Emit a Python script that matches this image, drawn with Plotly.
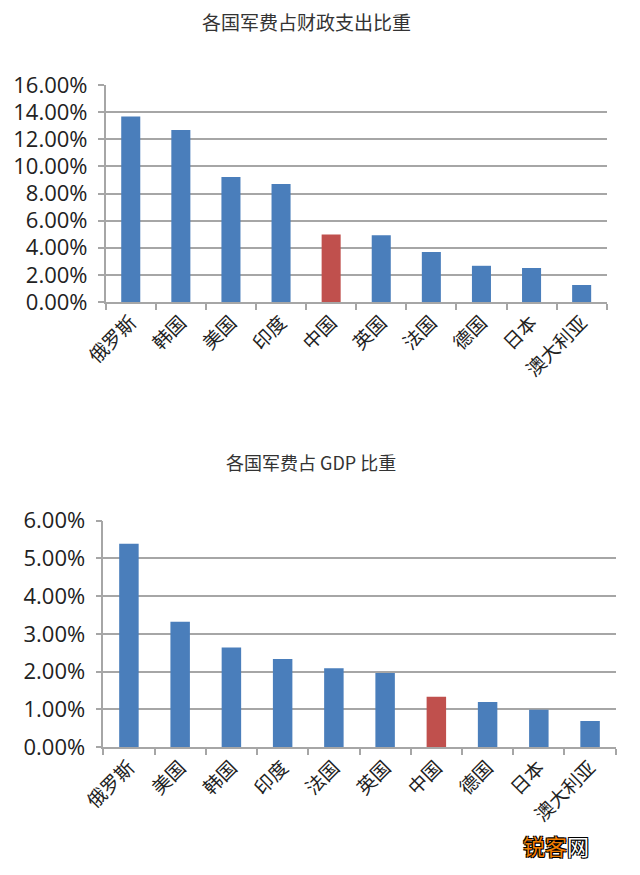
import plotly.graph_objects as go

# Chart 1: military spending as share of fiscal expenditure
cats1 = ["俄罗斯", "韩国", "美国", "印度", "中国", "英国", "法国", "德国", "日本", "澳大利亚"]
vals1 = [13.67, 12.69, 9.22, 8.70, 4.97, 4.92, 3.68, 2.67, 2.50, 1.26]

# Chart 2: military spending as share of GDP
cats2 = ["俄罗斯", "美国", "韩国", "印度", "法国", "英国", "中国", "德国", "日本", "澳大利亚"]
vals2 = [5.39, 3.32, 2.64, 2.33, 2.09, 1.96, 1.33, 1.19, 0.99, 0.69]

ticks1 = [0, 2, 4, 6, 8, 10, 12, 14, 16]
ticks2 = [0, 1, 2, 3, 4, 5, 6]

title1 = "各国军费占财政支出比重"
title2 = "各国军费占 GDP 比重"

BLUE = "#4a7ebb"
RED = "#c0504d"
GRID = "#a6a6a6"
CJK = "Noto Sans CJK SC"
NUM = "Open Sans"

def colors(cats):
    return [RED if c == "中国" else BLUE for c in cats]

fig = go.Figure()
fig.add_trace(go.Bar(x=cats1, y=vals1, marker=dict(color=colors(cats1), line=dict(width=0)),
                     xaxis="x", yaxis="y", showlegend=False))
fig.add_trace(go.Bar(x=cats2, y=vals2, marker=dict(color=colors(cats2), line=dict(width=0)),
                     xaxis="x2", yaxis="y2", showlegend=False))

# page has an 8px body margin: figure is drawn offset by 8px
OFF = 8
W, H = 640 - OFF, 875 - OFF
def fx(px):
    return (px - OFF) / W
def fy(py):
    return 1 - (py - OFF) / H

xcommon = dict(type="category", tickangle=-45, showgrid=False, showline=True,
               linecolor=GRID, linewidth=2, ticks="outside", tickson="boundaries",
               ticklen=6, tickwidth=1.5, tickcolor=GRID, automargin=False,
               tickfont=dict(family=CJK, size=19, color="#222"))
ycommon = dict(showgrid=True, gridcolor=GRID, gridwidth=2, showline=True,
               linecolor=GRID, linewidth=1.5, ticks="outside", ticklen=6,
               tickcolor=GRID, tickwidth=2, zeroline=False, automargin=False,
               ticklabelstandoff=6,
               tickfont=dict(family=NUM, size=22, color="#222"))

fig.update_layout(
    width=W, height=H,
    margin=dict(l=0, r=0, t=0, b=0),
    paper_bgcolor="white", plot_bgcolor="white",
    bargap=0.62,
    xaxis=dict(domain=[fx(105.7), fx(606.7)], anchor="y", **xcommon),
    yaxis=dict(domain=[fy(302), fy(85)], anchor="x", range=[0, 16],
               tickvals=ticks1, ticktext=[f"{t:.2f}%" for t in ticks1], **ycommon),
    xaxis2=dict(domain=[fx(103.3), fx(615.7)], anchor="y2", **xcommon),
    yaxis2=dict(domain=[fy(747), fy(520.7)], anchor="x2", range=[0, 6],
                tickvals=ticks2, ticktext=[f"{t:.2f}%" for t in ticks2], **ycommon),
    annotations=[
        dict(text=title1, x=fx(306), y=fy(22), xref="paper", yref="paper",
             showarrow=False, xanchor="center", yanchor="middle",
             font=dict(family=CJK, size=19, color="#333")),
        dict(text=title2, x=fx(311), y=fy(462), xref="paper", yref="paper",
             showarrow=False, xanchor="center", yanchor="middle",
             font=dict(family=CJK, size=18, color="#333")),
        dict(text="<span style='color:#f07d00'>锐客</span><span style='color:#ffffff'>网</span>",
             x=fx(556), y=fy(845), xref="paper", yref="paper",
             showarrow=False, xanchor="center", yanchor="middle",
             font=dict(family=CJK, size=22,
                       shadow="-1px -1px 0 #000, 1px -1px 0 #000, -1px 1px 0 #000, 1px 1px 0 #000")),
    ],
)

fig.write_html("out.html")
